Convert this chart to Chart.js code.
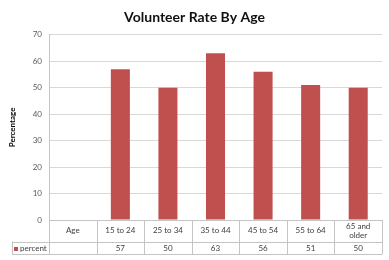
<!DOCTYPE html>
<html>
<head>
<meta charset="utf-8">
<script src="https://cdn.jsdelivr.net/npm/chart.js@4"></script>
<style>
  html, body { margin: 0; padding: 0; background: #fff; }
</style>
</head>
<body>
<canvas id="myChart" width="389" height="260"></canvas>
<script>
const categorias = ["Age", "15 to 24", "25 to 34", "35 to 44", "45 to 54", "55 to 64", "65 and older"];
const percent = [null, 57, 50, 63, 56, 51, 50];
const nombreSerie = "percent";
const ticksY = [0, 10, 20, 30, 40, 50, 60, 70];

const rojo = "#c0504d";
const lineaTabla = "#c4c4c4";
const fuente = "Lato, 'Open Sans', sans-serif";

// parte el texto en lineas si no cabe en la columna
function partirTexto(ctx, texto, ancho) {
  const palabras = texto.split(" ");
  const lineas = [];
  let actual = "";
  palabras.forEach((p) => {
    const prueba = actual ? actual + " " + p : p;
    if (ctx.measureText(prueba).width > ancho && actual) {
      lineas.push(actual);
      actual = p;
    } else {
      actual = prueba;
    }
  });
  lineas.push(actual);
  return lineas;
}

// tabla de datos debajo del grafico (como en Excel)
const tablaDatos = {
  id: "tablaDatos",
  afterDraw(chart) {
    const ctx = chart.ctx;
    const x = chart.scales.x;
    const area = chart.chartArea;
    const n = categorias.length;
    const anchoCol = (area.right - area.left) / n;
    const y0 = area.bottom;
    const y1 = y0 + 21.5;
    const y2 = y0 + 34;
    const izq = 12;

    ctx.save();
    ctx.strokeStyle = lineaTabla;
    ctx.lineWidth = 1;
    ctx.beginPath();
    ctx.moveTo(area.left, Math.round(y0) + 0.5);
    ctx.lineTo(area.right, Math.round(y0) + 0.5);
    ctx.moveTo(izq, Math.round(y1) + 0.5);
    ctx.lineTo(area.right, Math.round(y1) + 0.5);
    ctx.moveTo(izq, Math.round(y2) + 0.5);
    ctx.lineTo(area.right, Math.round(y2) + 0.5);
    for (let i = 0; i <= n; i++) {
      const xx = Math.round(x.getPixelForValue(i) - anchoCol / 2) + 0.5;
      ctx.moveTo(xx, y0);
      ctx.lineTo(xx, y2 + 0.5);
    }
    ctx.moveTo(izq + 0.5, y1);
    ctx.lineTo(izq + 0.5, y2 + 0.5);
    ctx.stroke();

    ctx.fillStyle = "#404040";
    ctx.font = "8px " + fuente;
    ctx.textAlign = "center";
    ctx.textBaseline = "middle";
    categorias.forEach((cat, i) => {
      const cx = x.getPixelForValue(i);
      const lineas = partirTexto(ctx, cat, anchoCol - 8);
      const medio = (y0 + y1) / 2;
      lineas.forEach((l, k) => {
        ctx.fillText(l, cx, medio + (k - (lineas.length - 1) / 2) * 8.5);
      });
      if (percent[i] !== null) {
        ctx.fillText(String(percent[i]), cx, (y1 + y2) / 2 + 0.5);
      }
    });

    ctx.fillStyle = rojo;
    ctx.fillRect(14, y1 + 5.5, 4, 4);
    ctx.fillStyle = "#404040";
    ctx.textAlign = "left";
    ctx.fillText(nombreSerie, 20, (y1 + y2) / 2 + 0.5);
    ctx.restore();
  },
};

const ctx = document.getElementById("myChart").getContext("2d");
let chart = new Chart(ctx, {
  type: "bar",
  data: {
    labels: categorias,
    datasets: [
      {
        label: nombreSerie,
        data: percent,
        backgroundColor: rojo,
        borderWidth: 0,
        categoryPercentage: 1,
        barPercentage: 0.4,
      },
    ],
  },
  options: {
    responsive: false,
    animation: false,
    devicePixelRatio: 1,
    layout: {
      padding: { left: 7, right: 7, top: 0, bottom: 40 },
    },
    plugins: {
      legend: { display: false },
      tooltip: { enabled: false },
      title: {
        display: true,
        text: "Volunteer Rate By Age",
        color: "#111",
        font: { family: fuente, size: 14, weight: "bold" },
        padding: { top: 9.5, bottom: 8.5 },
      },
    },
    scales: {
      x: {
        display: false,
      },
      y: {
        min: 0,
        max: 70,
        afterFit(scale) {
          scale.width = 42;
        },
        afterBuildTicks(scale) {
          scale.ticks = ticksY.map((v) => ({ value: v }));
        },
        ticks: {
          color: "#595959",
          font: { family: fuente, size: 8 },
          padding: 7,
        },
        grid: {
          color: "#d9d9d9",
          drawTicks: false,
        },
        border: {
          display: true,
          color: "#c4c4c4",
        },
        title: {
          display: true,
          text: "Percentage",
          color: "#000",
          font: { family: fuente, size: 8, weight: "bold" },
          padding: { top: 1, bottom: 0 },
        },
      },
    },
  },
  plugins: [tablaDatos],
});
</script>
</body>
</html>
